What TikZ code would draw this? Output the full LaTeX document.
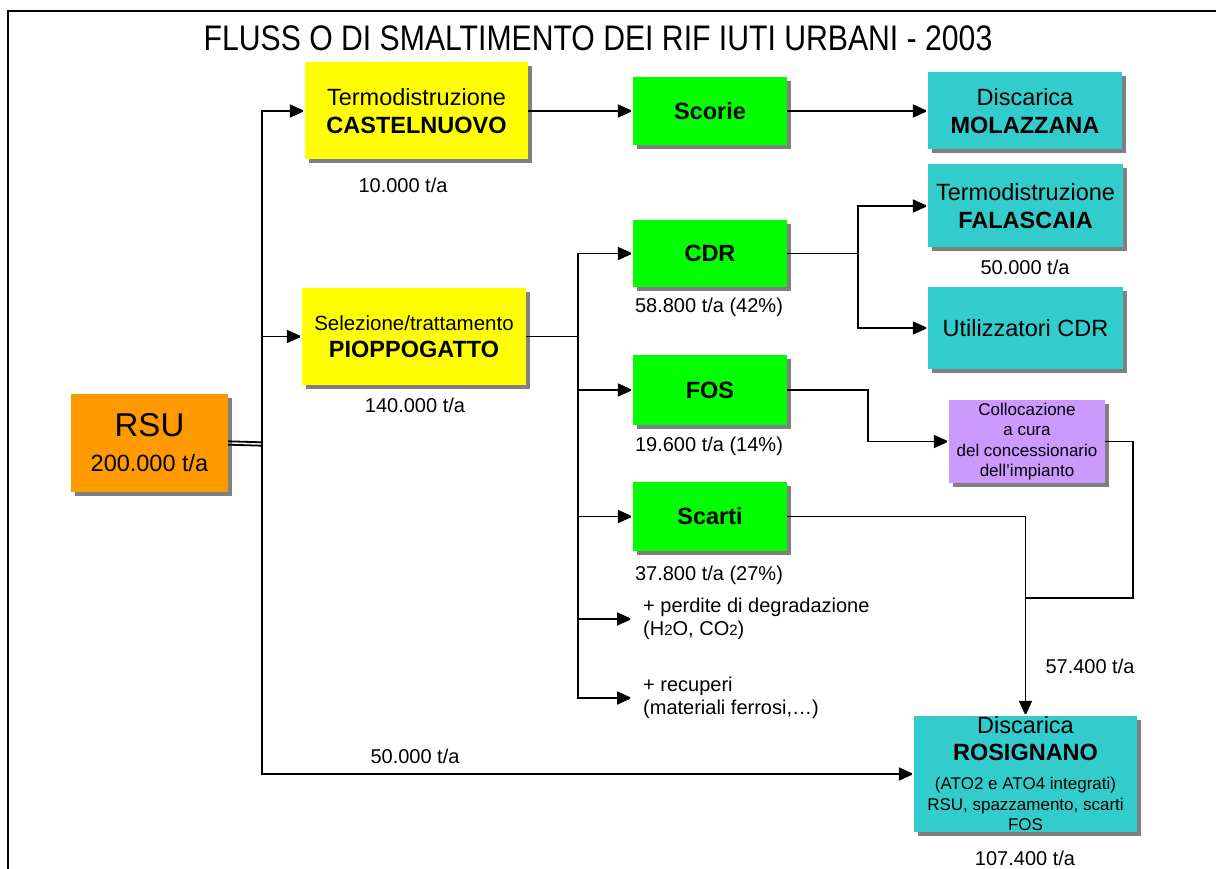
\documentclass[tikz,border=0pt]{standalone}
\usepackage{fontspec}
\usepackage{graphicx}
\setmainfont{Liberation Sans}
\usetikzlibrary{arrows.meta,shadows}
\definecolor{yel}{HTML}{FFFF00}
\definecolor{grn}{HTML}{00FF00}
\definecolor{tea}{HTML}{33CCCC}
\definecolor{org}{HTML}{FF9900}
\definecolor{pur}{HTML}{CC99FF}
\definecolor{shg}{HTML}{808080}
\newcommand{\fz}[2]{\fontsize{#1}{#2}\selectfont}
\tikzset{
  box/.style={inner sep=0pt, align=flush center, font=\fz{23.5}{28},
    drop shadow={shadow xshift=4pt, shadow yshift=-4pt, fill=shg, opacity=1}},
  bx/.style 2 args={minimum width=#1, minimum height=#2, text width=#1},
  lab/.style={inner sep=0pt, font=\fz{20}{24}},
  side/.style={inner ysep=0pt, inner xsep=11pt, anchor=west, align=left, font=\fz{20}{23}},
  arr/.style={-{Triangle[length=15pt,width=13pt]}},
  conn/.style={line width=1.8pt, miter limit=2}
}
\begin{document}
\begin{tikzpicture}[x=1pt,y=-1pt]
\useasboundingbox (0,0) rectangle (1216,869);
\draw[line width=2.5pt] (8,869) -- (8,11) -- (1216,11);
\node[inner sep=0pt] (title) at (598,38) {\scalebox{0.85}[1]{\fz{35.5}{40}FLUSS O DI SMALTIMENTO DEI RIF IUTI URBANI - 2003}};

% boxes
\node[box,bx={223pt}{97pt},fill=yel] (cast) at (416.5,111) {Termodistruzione\\\textbf{CASTELNUOVO}};
\node[box,bx={154pt}{68pt},fill=grn] (scorie) at (710,111) {\textbf{Scorie}};
\node[box,bx={194pt}{77pt},fill=tea] (mol) at (1025,111) {Discarica\\\textbf{MOLAZZANA}};
\node[box,bx={195pt}{83pt},fill=tea] (fal) at (1025.5,206) {Termodistruzione\\\textbf{FALASCAIA}};
\node[box,bx={195pt}{82pt},fill=tea] (util) at (1025.5,328) {Utilizzatori CDR};
\node[box,bx={154pt}{67pt},fill=grn] (cdr) at (710,253.5) {\textbf{CDR}};
\node[box,bx={224pt}{97pt},fill=yel,font=\fz{23.5}{27}] (piop) at (414,336.5) {{\fz{20.5}{24}Selezione/trattamento}\\\textbf{PIOPPOGATTO}};
\node[box,bx={157pt}{98pt},fill=org] (rsu) at (149.5,443) {{\fz{33}{36}RSU\par}{\fz{23.5}{35}200.000 t/a\par}};
\node[box,bx={154pt}{70pt},fill=grn] (fos) at (710,390) {\textbf{FOS}};
\node[box,bx={154pt}{69pt},fill=grn] (scarti) at (710,516.5) {\textbf{Scarti}};
\node[box,bx={156pt}{83pt},fill=pur,font=\fz{17}{20.5}] (coll) at (1027,441.5) {Collocazione\\a cura\\del concessionario\\dell’impianto};
\node[box,bx={223pt}{116pt},fill=tea] (ros) at (1025.5,774) {{\fz{23.5}{27}Discarica\par}{\fz{23.5}{27}\textbf{ROSIGNANO}\par}{\fz{17}{29}(ATO2 e ATO4 integrati)\par}{\fz{17}{21}RSU, spazzamento, scarti\par}{\fz{17}{20}FOS\par}};

% labels
\node[lab] (l1) at (403,185) {10.000 t/a};
\node[lab] (l2) at (415,405) {140.000 t/a};
\node[lab] (l3) at (709,307) {58.800 t/a (42\%)};
\node[lab] (l4) at (1025,267) {50.000 t/a};
\node[lab] (l5) at (709,446) {19.600 t/a (14\%)};
\node[lab] (l6) at (709,575) {37.800 t/a (27\%)};
\node[lab] (l7) at (1090,666) {57.400 t/a};
\node[lab] (l8) at (415,756) {50.000 t/a};
\node[lab] (l9) at (1025,858) {107.400 t/a};
\node[side] (perd) at (632,619) {+ perdite di degradazione\\(H{\fz{15}{15}2}O, CO{\fz{15}{15}2})};
\node[side] (rec) at (632,698) {+ recuperi\\(materiali ferrosi,…)};

% connectors
\coordinate (t1) at (262,444);
\draw[conn] ([yshift=1.7pt]rsu.east) -- ([yshift=1.7pt]t1);
\draw[conn] ([yshift=-1.7pt]rsu.east) -- ([yshift=-1.7pt]t1);
\draw[conn,arr] (t1) |- (cast.west);
\draw[conn,arr] (t1) |- (piop.west);
\draw[conn,arr] (t1) |- (ros.west);
\draw[conn,arr] (cast) -- (scorie);
\draw[conn,arr] (scorie) -- (mol);
\coordinate (t2) at (578,336.5);
\draw[conn] (piop.east) -- (t2);
\draw[conn,arr] (t2) |- (cdr.west);
\draw[conn,arr] (t2) |- (fos.west);
\draw[conn,arr] (t2) |- (scarti.west);
\draw[conn,arr] (t2) |- (perd.west);
\draw[conn,arr] (t2) |- (rec.west);
\coordinate (t3) at (858,253.5);
\draw[conn] (cdr.east) -- (t3);
\draw[conn,arr] (t3) |- (fal.west);
\draw[conn,arr] (t3) |- (util.west);
\coordinate (t4) at (868,441.5);
\draw[conn,arr] (fos.east) -| (t4) -- (coll.west);
\coordinate (t5) at (1133,598);
\coordinate (t6) at (1025.5,598);
\draw[conn] (coll.east) -| (t5) -- (t6);
\draw[conn,arr] (scarti.east) -| (ros.north);
\end{tikzpicture}
\end{document}
